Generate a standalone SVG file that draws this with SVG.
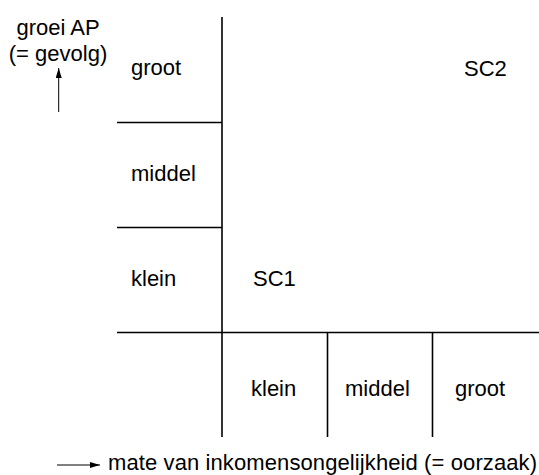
<svg xmlns="http://www.w3.org/2000/svg" width="539" height="475" viewBox="0 0 539 475">
<style>
text{font-family:"Liberation Sans",Arial,sans-serif;font-size:22px;fill:#000}
.g{stroke:#000;stroke-width:1.6;fill:none}
.a{stroke:#000;stroke-width:1;fill:none}
</style>
<defs>
<marker id="ah" viewBox="0 0 10 6" refX="10" refY="3" markerWidth="10" markerHeight="6" markerUnits="userSpaceOnUse" orient="auto">
<path d="M0,0 L10,3 L0,6 z" fill="#000"/>
</marker>
</defs>
<rect width="539" height="475" fill="#fff"/>
<g id="connectors">
<line class="g" x1="222" y1="17" x2="222" y2="437"/>
<line class="g" x1="117" y1="332.5" x2="539" y2="332.5"/>
<line class="g" x1="117" y1="122.5" x2="222" y2="122.5"/>
<line class="g" x1="117" y1="227.5" x2="222" y2="227.5"/>
<line class="g" x1="327.5" y1="332.5" x2="327.5" y2="437"/>
<line class="g" x1="432.5" y1="332.5" x2="432.5" y2="437"/>
<line class="a" x1="58.7" y1="112" x2="58.7" y2="68" marker-end="url(#ah)"/>
<line class="a" x1="57" y1="465" x2="100" y2="465" marker-end="url(#ah)"/>
</g>
<g id="y-axis-label">
<text x="58" y="35" text-anchor="middle">groei AP</text>
<text x="58" y="61" text-anchor="middle">(= gevolg)</text>
</g>
<g id="x-axis-label">
<text x="108" y="470" textLength="429" lengthAdjust="spacing">mate van inkomensongelijkheid (= oorzaak)</text>
</g>
<g id="row-groot"><text x="131" y="75">groot</text></g>
<g id="row-middel"><text x="131" y="181">middel</text></g>
<g id="row-klein"><text x="131" y="286">klein</text></g>
<g id="col-klein"><text x="251" y="396">klein</text></g>
<g id="col-middel"><text x="345" y="396">middel</text></g>
<g id="col-groot"><text x="455" y="396">groot</text></g>
<g id="sc1"><text x="253" y="286">SC1</text></g>
<g id="sc2"><text x="464" y="76">SC2</text></g>
</svg>
